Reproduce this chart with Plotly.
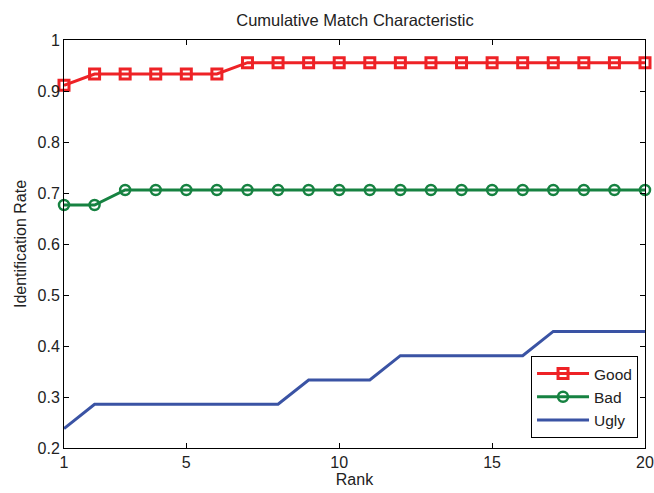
import plotly.graph_objects as go

ranks = list(range(1, 21))
good = [0.9111, 0.9333, 0.9333, 0.9333, 0.9333, 0.9333] + [0.9556] * 14
bad = [0.6765, 0.6765] + [0.7059] * 18
ugly = [0.2381] + [0.2857] * 7 + [0.3333] * 3 + [0.3810] * 5 + [0.4286] * 4

x_ticks = [1, 5, 10, 15, 20]
y_ticks = [0.2, 0.3, 0.4, 0.5, 0.6, 0.7, 0.8, 0.9, 1.0]
y_labels = ["0.2", "0.3", "0.4", "0.5", "0.6", "0.7", "0.8", "0.9", "1"]

FONT = "Liberation Sans, Arial, Helvetica, sans-serif"
TXT = "#222222"

fig = go.Figure()
fig.add_trace(go.Scatter(x=ranks, y=good, name="Good", mode="lines+markers",
                         line=dict(color="#EE2226", width=3),
                         marker=dict(symbol="square-open", size=10, line=dict(width=3), color="#EE2226"),
                         cliponaxis=False))
fig.add_trace(go.Scatter(x=ranks, y=bad, name="Bad", mode="lines+markers",
                         line=dict(color="#168241", width=3),
                         marker=dict(symbol="circle-open", size=10, line=dict(width=2.5), color="#168241"),
                         cliponaxis=False))
fig.add_trace(go.Scatter(x=ranks, y=ugly, name="Ugly", mode="lines",
                         line=dict(color="#3A53A4", width=3),
                         cliponaxis=False))

axis_common = dict(showline=True, linecolor="black", linewidth=1, mirror="allticks",
                   ticks="inside", ticklen=5, tickcolor="black", showgrid=False,
                   zeroline=False, automargin=False,
                   tickfont=dict(family=FONT, size=16, color=TXT))

fig.update_layout(
    width=654, height=493,
    margin=dict(l=64, r=9, t=40, b=45),
    paper_bgcolor="white", plot_bgcolor="white",
    title=dict(text="Cumulative Match Characteristic", x=355 / 654, xanchor="center",
               y=1 - 20 / 493, yanchor="middle", yref="container",
               font=dict(family=FONT, size=16.5, color=TXT)),
    xaxis=dict(range=[1, 20], tickvals=x_ticks, ticktext=[str(v) for v in x_ticks],
               title=dict(text="Rank", font=dict(family=FONT, size=16, color=TXT), standoff=1),
               **axis_common),
    yaxis=dict(range=[0.2, 1.0], tickvals=y_ticks, ticktext=y_labels,
               title=dict(text="Identification Rate", font=dict(family=FONT, size=16, color=TXT), standoff=6),
               **axis_common),
    legend=dict(x=0.988, y=0.0245, xanchor="right", yanchor="bottom",
                bordercolor="black", borderwidth=1, bgcolor="white",
                font=dict(family=FONT, size=15.5, color=TXT),
                tracegroupgap=0, itemwidth=52),
    showlegend=True,
)

fig.write_html("out.html",
               config={"displayModeBar": False},
               post_script="document.body.style.margin='0';document.body.style.overflow='hidden';")
